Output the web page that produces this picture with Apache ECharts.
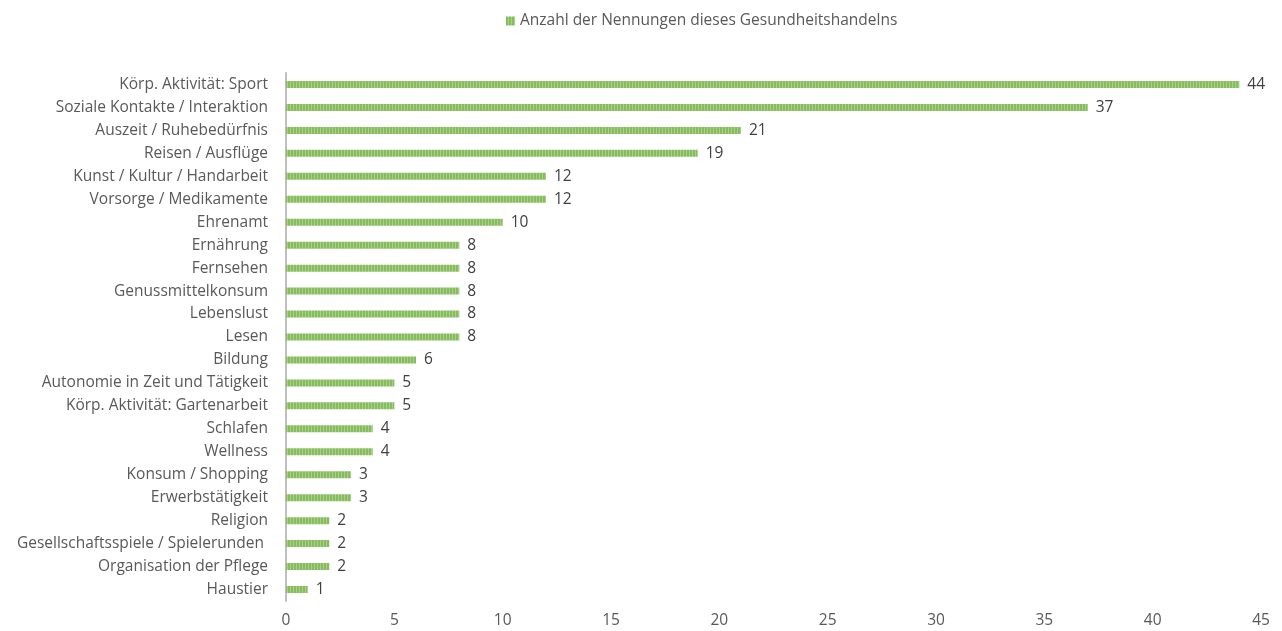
<!DOCTYPE html>
<html>
<head>
<meta charset="utf-8">
<script src="https://cdn.jsdelivr.net/npm/echarts@6/dist/echarts.min.js"></script>
<style>
  html, body { margin: 0; padding: 0; background: #fff; }
  #chart { width: 1282px; height: 631px; }
</style>
</head>
<body>
<div id="chart"></div>
<script>
const categories = [
    'Körp. Aktivität: Sport',
    'Soziale Kontakte / Interaktion',
    'Auszeit / Ruhebedürfnis',
    'Reisen / Ausflüge',
    'Kunst / Kultur / Handarbeit',
    'Vorsorge / Medikamente',
    'Ehrenamt',
    'Ernährung',
    'Fernsehen',
    'Genussmittelkonsum',
    'Lebenslust',
    'Lesen',
    'Bildung',
    'Autonomie in Zeit und Tätigkeit',
    'Körp. Aktivität: Gartenarbeit',
    'Schlafen',
    'Wellness',
    'Konsum / Shopping',
    'Erwerbstätigkeit',
    'Religion',
    'Gesellschaftsspiele / Spielerunden ',
    'Organisation der Pflege',
    'Haustier'
];
const values = [44, 37, 21, 19, 12, 12, 10, 8, 8, 8, 8, 8, 6, 5, 5, 4, 4, 3, 3, 2, 2, 2, 1];
const seriesName = 'Anzahl der Nennungen dieses Gesundheitshandelns';

// gestreiftes Muster wie im Original
const patternCanvas = document.createElement('canvas');
patternCanvas.width = 3;
patternCanvas.height = 4;
const ctx = patternCanvas.getContext('2d');
ctx.fillStyle = '#86bc5c';
ctx.fillRect(0, 0, 3, 4);
ctx.fillStyle = '#a8d08c';
ctx.fillRect(2, 0, 1, 4);

const myChart = echarts.init(document.getElementById('chart'));

const option = {
    animation: false,
    textStyle: { fontFamily: 'Open Sans' },
    legend: {
        top: 8,
        left: 501,
        itemWidth: 9,
        itemHeight: 9,
        itemGap: 5,
        icon: 'rect',
        textStyle: { color: '#595959', fontSize: 15.5 },
        data: [seriesName]
    },
    grid: {
        left: 286,
        right: 21,
        top: 73,
        bottom: 30,
        containLabel: false
    },
    xAxis: {
        type: 'value',
        min: 0,
        max: 45,
        interval: 5,
        axisLine: { show: false },
        axisTick: { show: false },
        splitLine: { show: false },
        axisLabel: { color: '#595959', fontSize: 15.5, margin: 12 }
    },
    yAxis: {
        type: 'category',
        inverse: true,
        data: categories,
        axisLine: { show: true, lineStyle: { color: '#bfbfbf', width: 2 } },
        axisTick: { show: false },
        axisLabel: { color: '#595959', fontSize: 15.5, margin: 18 }
    },
    series: [
        {
            name: seriesName,
            type: 'bar',
            data: values,
            barWidth: 7,
            itemStyle: { color: { image: patternCanvas, repeat: 'repeat' } },
            label: {
                show: true,
                position: 'right',
                distance: 8,
                color: '#404040',
                fontSize: 15.5
            }
        }
    ]
};

myChart.setOption(option);
window.addEventListener('resize', () => {
    myChart.resize();
});
</script>
</body>
</html>
